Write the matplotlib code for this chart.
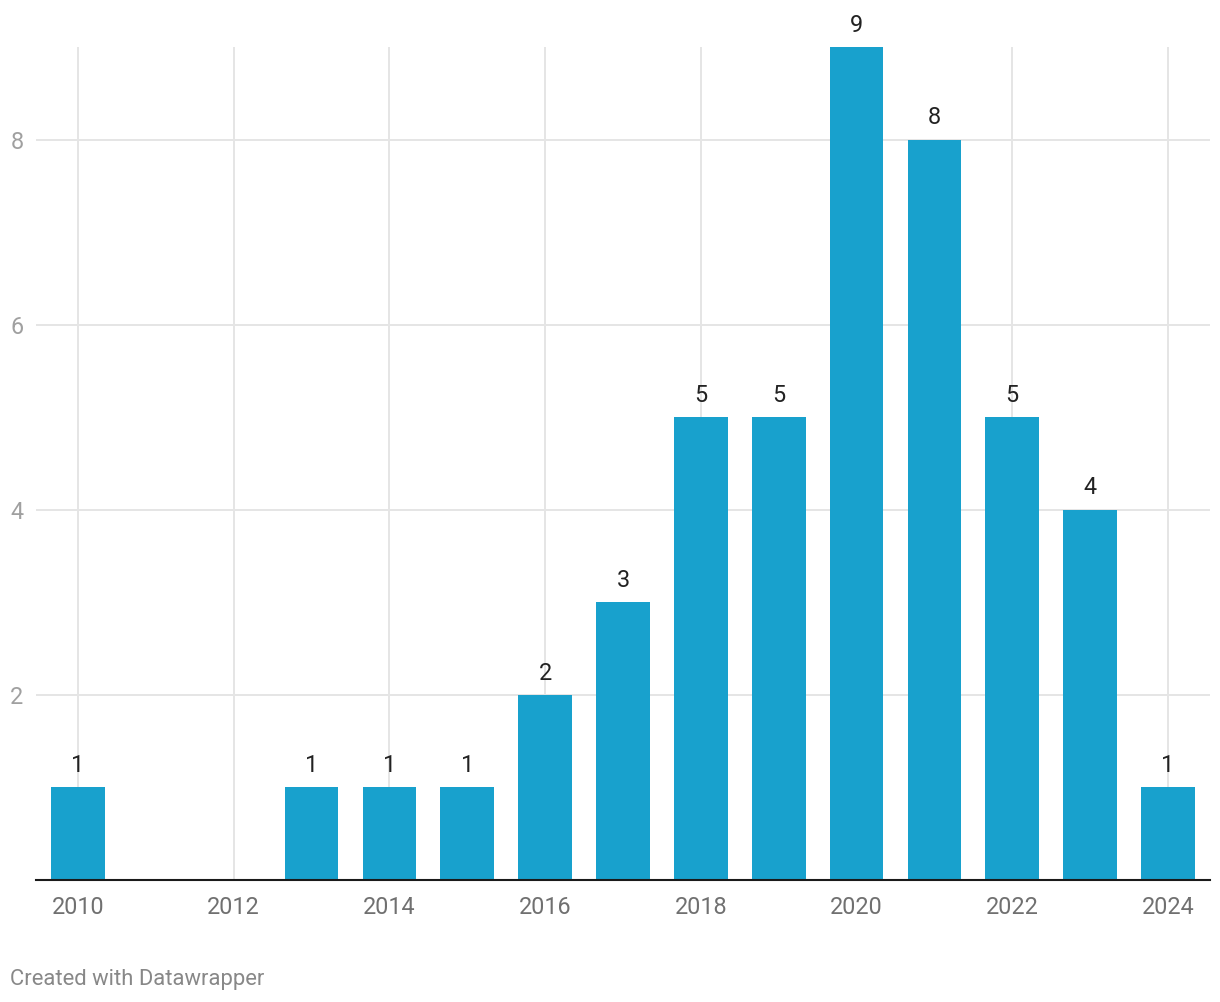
#!/usr/bin/env python3
"""Bar chart of counts per year (Datawrapper-style)."""
import matplotlib
matplotlib.use("Agg")
import matplotlib.pyplot as plt

years = [2010, 2011, 2012, 2013, 2014, 2015, 2016, 2017,
         2018, 2019, 2020, 2021, 2022, 2023, 2024]
counts = [1, 0, 0, 1, 1, 1, 2, 3, 5, 5, 9, 8, 5, 4, 1]
x_ticks = [2010, 2012, 2014, 2016, 2018, 2020, 2022, 2024]
y_ticks = [2, 4, 6, 8]
footer = "Created with Datawrapper"

BAR = "#18a1cd"
GRID = "#e5e5e5"

plt.rcParams["font.family"] = ["Roboto", "DejaVu Sans"]

W, H = 1220, 1002
fig = plt.figure(figsize=(W / 100, H / 100), dpi=100)
ax = fig.add_axes([36 / W, (H - 880) / H, (1210 - 36) / W, (880 - 47) / H])

ax.bar(years, counts, width=0.69, color=BAR, zorder=2)

# value labels on non-empty bars
for yr, c in zip(years, counts):
    if c > 0:
        ax.annotate(str(c), (yr, c), xytext=(0, 11), textcoords="offset points",
                    ha="center", va="baseline", fontsize=16.8, color="#222222")

ax.set_xlim(2009.46, 2024.54)
ax.set_ylim(0, 9)
ax.set_xticks(x_ticks)
ax.set_yticks(y_ticks)
ax.grid(True, color=GRID, linewidth=1.4, zorder=0)
ax.set_axisbelow(True)

for s in ("top", "right", "left"):
    ax.spines[s].set_visible(False)
ax.spines["bottom"].set_color("#1a1a1a")
ax.spines["bottom"].set_linewidth(1.5)
ax.spines["bottom"].set_zorder(3)

ax.tick_params(axis="x", length=0, pad=11.5, labelsize=16.8, labelcolor="#707070")
ax.tick_params(axis="y", length=0, pad=9, labelsize=16.8, labelcolor="#a0a0a0")

fig.text(10 / W, 1 - 980 / H, footer, ha="left", va="center",
         fontsize=15.8, color="#888888")

fig.savefig("out.png", dpi=100)
